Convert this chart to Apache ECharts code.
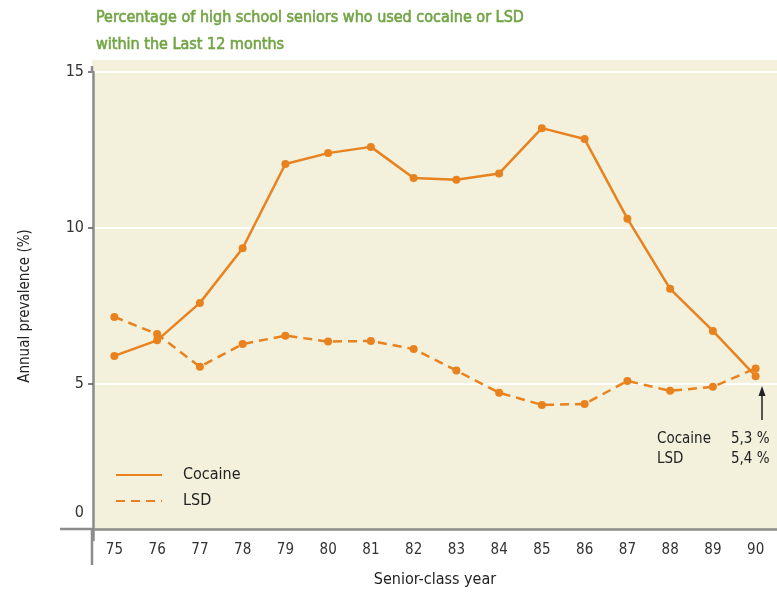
<!DOCTYPE html>
<html>
<head>
<meta charset="utf-8">
<script src="https://cdn.jsdelivr.net/npm/echarts@6/dist/echarts.min.js"></script>
<style>
  html, body { margin: 0; padding: 0; background: #fff; }
  #chart { width: 777px; height: 602px; }
</style>
</head>
<body>
<div id="chart"></div>
<script>
// senior-class years
var years = ['75', '76', '77', '78', '79', '80', '81', '82', '83', '84', '85', '86', '87', '88', '89', '90'];
// annual prevalence (%)
var cocaine = [5.9, 6.4, 7.6, 9.35, 12.05, 12.4, 12.6, 11.6, 11.55, 11.75, 13.2, 12.85, 10.3, 8.05, 6.7, 5.25];
var lsd = [7.15, 6.6, 5.55, 6.28, 6.55, 6.36, 6.38, 6.12, 5.43, 4.72, 4.33, 4.36, 5.1, 4.78, 4.91, 5.5];
var yTicks = [0, 5, 10, 15];

var fontFam = "'DejaVu Sans Condensed', 'Liberation Sans Narrow', sans-serif";
var orange = '#e8821f';
var axisGray = '#8c8c8c';
var green = '#72a445';

var chart = echarts.init(document.getElementById('chart'));
var option = {
    animation: false,
    title: {
        text: 'Percentage of high school seniors who used cocaine or LSD\nwithin the Last 12 months',
        left: 96,
        top: 4,
        padding: 0,
        textStyle: {
            color: green, fontSize: 16, fontWeight: 'normal', fontFamily: fontFam, lineHeight: 27,
            textBorderColor: green, textBorderWidth: 0.6
        }
    },
    legend: {
        orient: 'vertical',
        left: 110,
        top: 462,
        itemWidth: 46,
        itemHeight: 14,
        itemGap: 10,
        data: ['Cocaine', 'LSD'],
        itemStyle: { color: 'transparent', borderColor: 'transparent', borderWidth: 0 },
        textStyle: { color: '#222', fontSize: 16, fontFamily: fontFam, padding: [0, 0, 0, 16] }
    },
    grid: { left: 93, right: -7, top: 72, bottom: 62 },
    xAxis: {
        type: 'category',
        data: years,
        offset: -11,
        name: 'Senior-class year',
        nameLocation: 'middle',
        nameGap: 43,
        nameTextStyle: { color: '#222', fontSize: 16, fontFamily: fontFam },
        axisLine: { lineStyle: { color: axisGray, width: 2.5 } },
        axisTick: { alignWithLabel: true, length: 6, lineStyle: { color: '#444', width: 1.5 } },
        axisLabel: { color: '#333', fontSize: 15, fontFamily: fontFam, margin: 14 },
        splitLine: { show: false }
    },
    yAxis: {
        type: 'value',
        min: 0,
        max: 15,
        interval: 5,
        name: 'Annual prevalence (%)',
        nameLocation: 'middle',
        nameGap: 60,
        nameTextStyle: { color: '#222', fontSize: 15, fontFamily: fontFam },
        axisLine: { show: true, lineStyle: { color: axisGray, width: 2.5 } },
        axisTick: { show: true, length: 5, customValues: yTicks.slice(1), lineStyle: { color: '#555', width: 1.5 } },
        axisLabel: {
            color: '#333', fontSize: 16, fontFamily: fontFam, margin: 9,
            customValues: yTicks,
            formatter: function (v) { return v === 0 ? '{z|0}' : String(v); },
            rich: { z: { color: '#333', fontSize: 16, fontFamily: fontFam, padding: [0, 0, 54, 0] } }
        },
        splitLine: { show: true, lineStyle: { color: '#ffffff', width: 2 } }
    },
    series: [
        {
            name: 'Cocaine',
            type: 'line',
            data: cocaine,
            symbol: 'circle',
            symbolSize: 8,
            itemStyle: { color: orange },
            lineStyle: { color: orange, width: 2.5 },
            z: 3
        },
        {
            name: 'LSD',
            type: 'line',
            data: lsd,
            symbol: 'circle',
            symbolSize: 8,
            itemStyle: { color: orange },
            lineStyle: { color: orange, width: 2.5, type: [9, 6] },
            z: 2
        }
    ],
    graphic: [
        { type: 'rect', z: -10, silent: true, shape: { x: 92, y: 60, width: 685, height: 469 }, style: { fill: '#f3f1dc' } },
        { type: 'line', z: 1, shape: { x1: 92, y1: 66, x2: 92, y2: 73 }, style: { stroke: axisGray, lineWidth: 2.5 } },
        { type: 'line', z: 1, shape: { x1: 92, y1: 529, x2: 92, y2: 565 }, style: { stroke: axisGray, lineWidth: 2.5 } },
        { type: 'line', z: 1, shape: { x1: 60, y1: 529, x2: 93, y2: 529 }, style: { stroke: axisGray, lineWidth: 2.5 } },
        { type: 'line', z: 100, shape: { x1: 762, y1: 420, x2: 762, y2: 392 }, style: { stroke: '#222', lineWidth: 1.5 } },
        { type: 'polygon', z: 100, shape: { points: [[762, 386], [758.5, 396], [765.5, 396]] }, style: { fill: '#222' } },
        { type: 'text', z: 100, left: 657, top: 429, style: { text: 'Cocaine\nLSD', fill: '#222', font: '15px ' + fontFam, lineHeight: 20 } },
        { type: 'text', z: 100, left: 731, top: 429, style: { text: '5,3 %\n5,4 %', fill: '#222', font: '15px ' + fontFam, lineHeight: 20 } }
    ]
};
chart.setOption(option, true);
window.onresize = function () {
    chart.resize();
};
</script>
</body>
</html>
